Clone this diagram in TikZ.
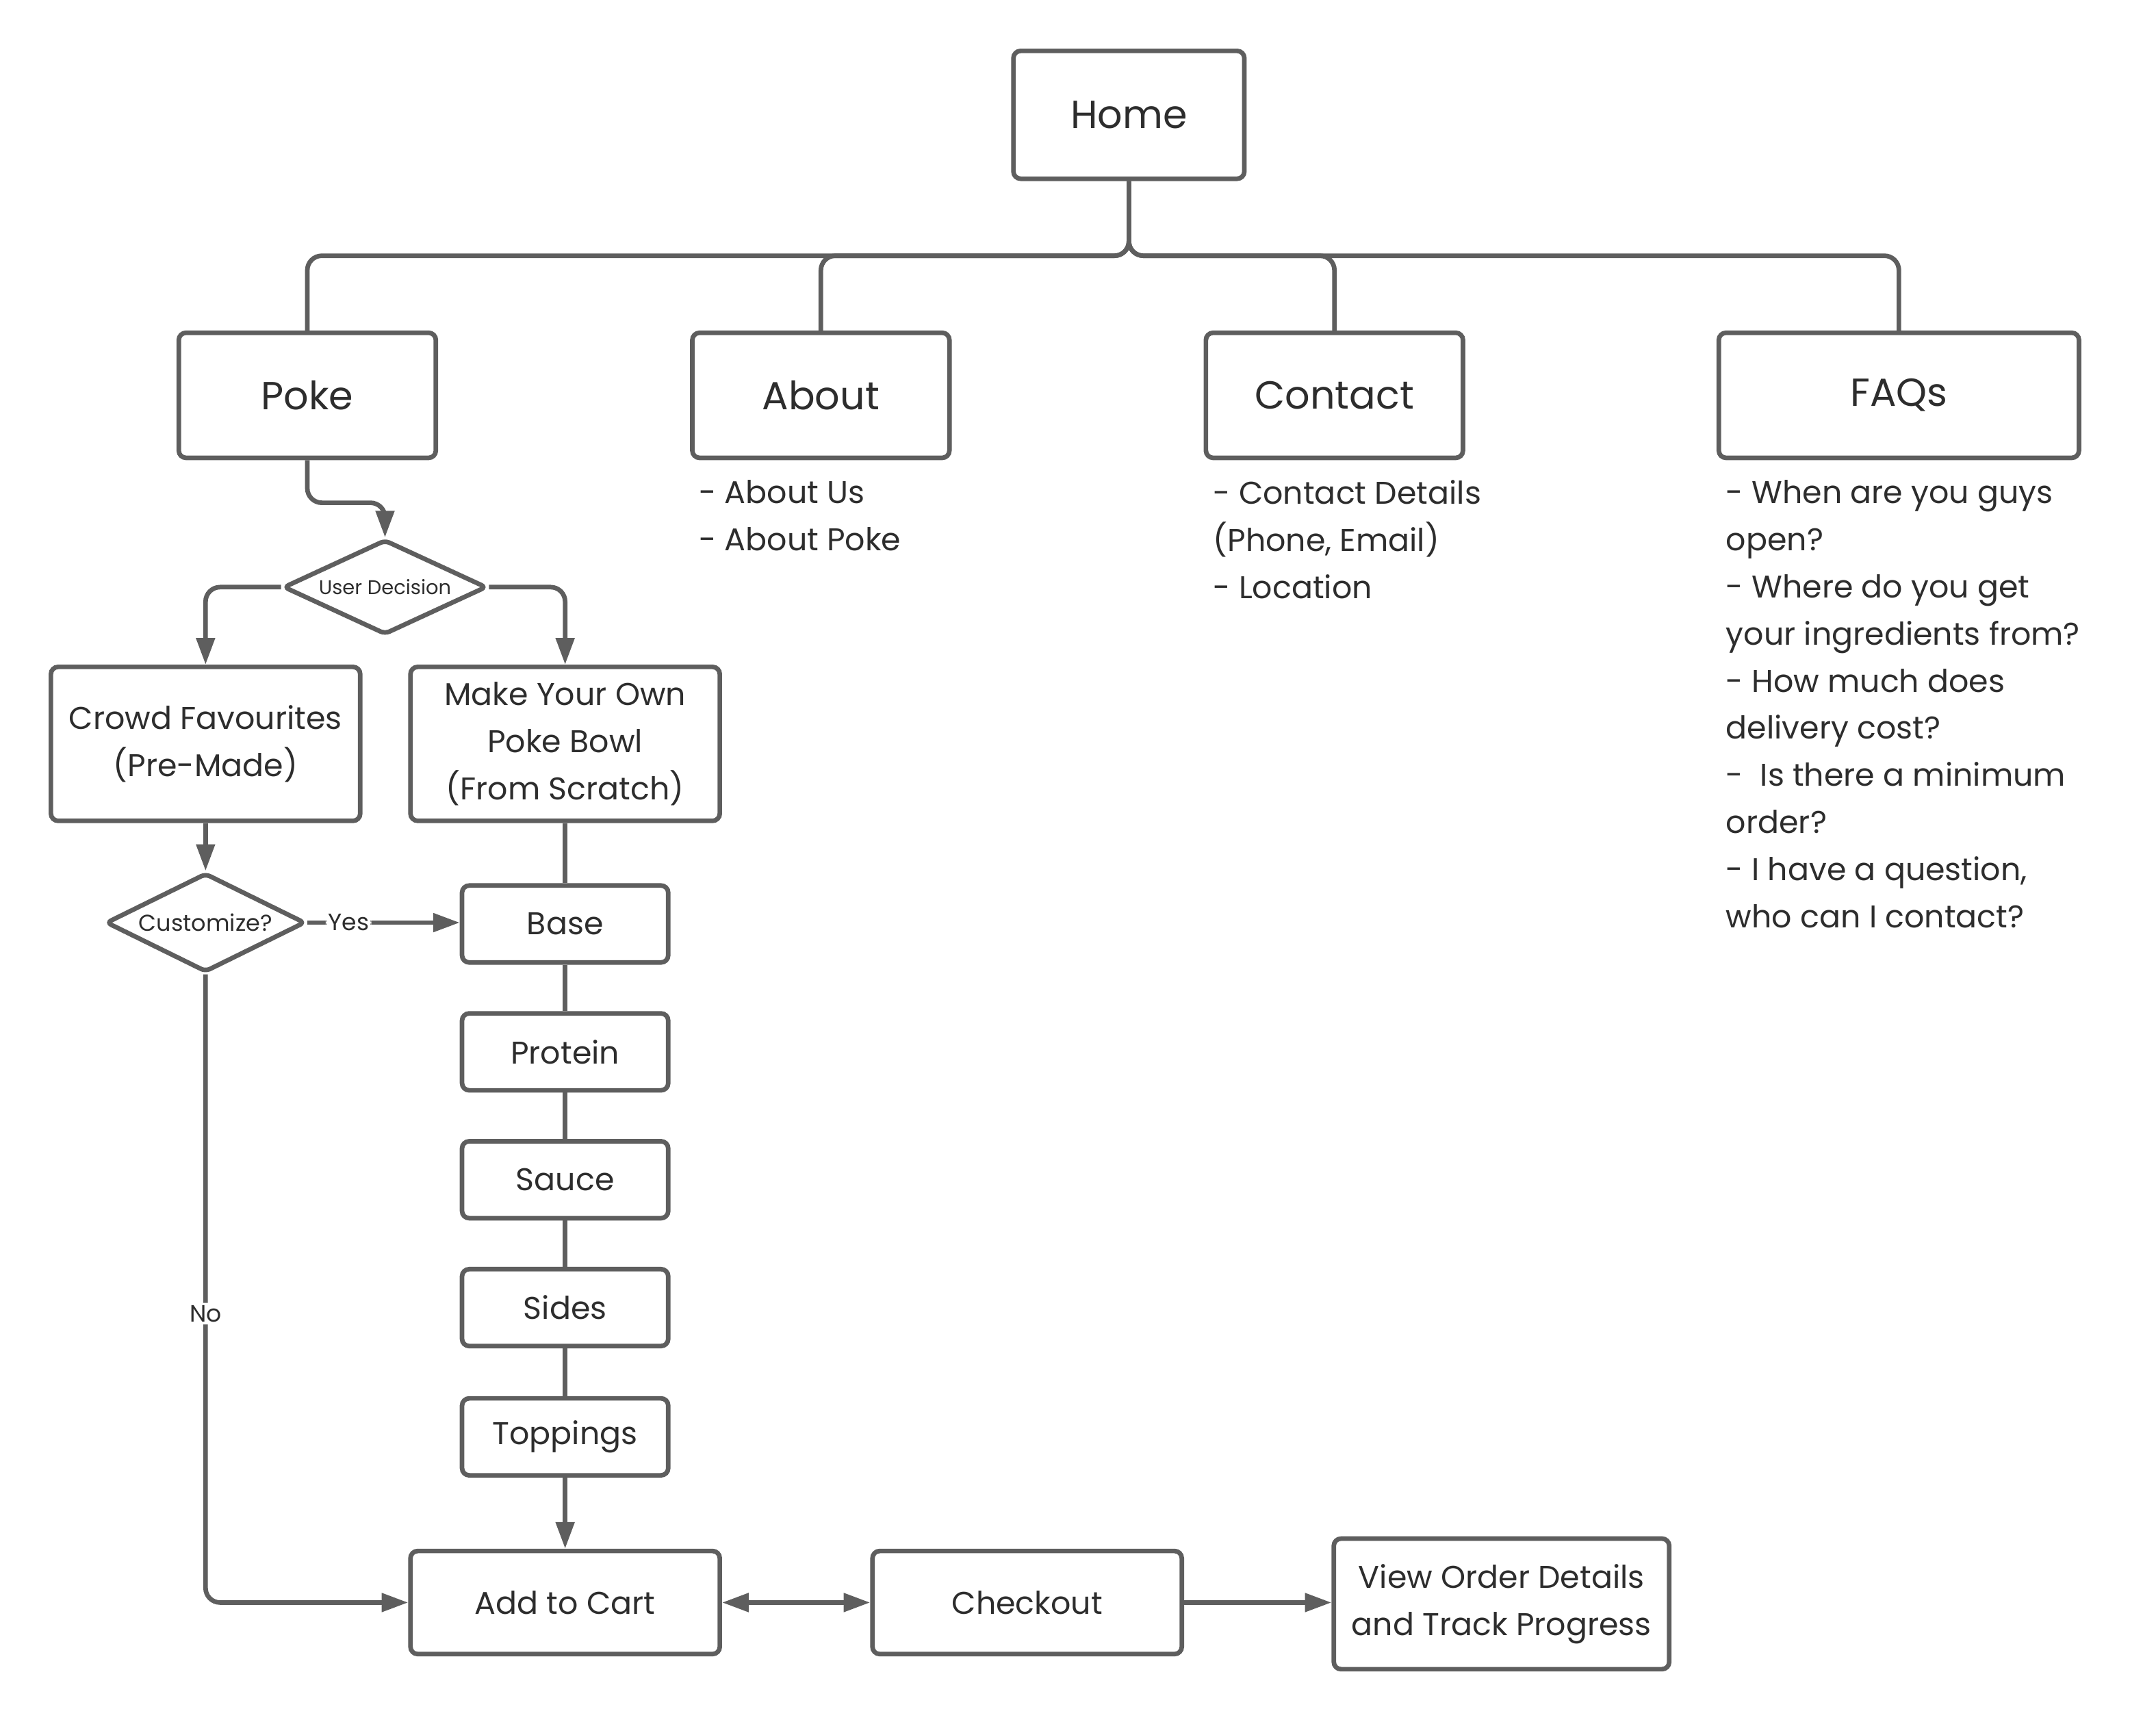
\documentclass[tikz,border=0pt]{standalone}
\usepackage{fontspec}
\setmainfont{Poppins}
\usetikzlibrary{shapes.geometric,arrows.meta}

\definecolor{linegray}{HTML}{5E5E5E}
\definecolor{textgray}{HTML}{2D2D2D}

\tikzset{
  box/.style={draw=linegray, line width=1.9pt, rounded corners=3pt, fill=white,
    text=textgray, align=center, inner sep=0pt, font=\fontsize{13}{19.5}\selectfont},
  bigbox/.style={box, font=\fontsize{16.2}{20}\selectfont, minimum width=3.74cm, minimum height=1.82cm},
  stepbox/.style={box, minimum width=3cm, minimum height=1.12cm},
  flowbox/.style={box, minimum width=4.5cm, minimum height=1.5cm},
  decision/.style={diamond, draw=linegray, line width=1.9pt, rounded corners=2pt, fill=white,
    text=textgray, inner sep=0pt},
  note/.style={anchor=north west, align=left, inner sep=0pt, text=textgray,
    font=\fontsize{13}{19.5}\selectfont},
  link/.style={draw=linegray, line width=1.9pt, rounded corners=6pt},
  arr/.style={link, -{Triangle[length=11pt,width=7.5pt]}},
  lbl/.style={fill=white, text=textgray, inner sep=1pt, font=\fontsize{9.8}{11}\selectfont}
}

\begin{document}
\begin{tikzpicture}[x=0.02cm, y=-0.02cm]
\useasboundingbox (0,0) rectangle (1568,1252);

% site map
\node[bigbox, minimum width=3.36cm, minimum height=1.86cm] (home) at (821,83.5) {Home};
\node[bigbox] (poke) at (223.5,287.5) {Poke};
\node[bigbox] (about) at (597,287.5) {About};
\node[bigbox] (contact) at (970.5,287.5) {Contact};
\node[bigbox, minimum width=5.24cm] (faqs) at (1381,287.5) {FAQs};
\coordinate (bus) at (821,186);

\draw[link] (home.south) -- (bus) -| (poke.north);
\draw[link] (home.south) -- (bus) -| (about.north);
\draw[link] (home.south) -- (bus) -| (contact.north);
\draw[link] (home.south) -- (bus) -| (faqs.north);

\node[note] (aboutlist) at (508,349) {- About Us\\- About Poke};
\node[note] (contactlist) at (882,349) {- Contact Details\\(Phone, Email)\\- Location};
\node[note] (faqlist) at (1255,349) {- When are you guys\\open?\\- Where do you get\\your ingredients from?\\- How much does\\delivery cost?\\-~ Is there a minimum\\order?\\- I have a question,\\who can I contact?};

% ordering flow
\node[decision, aspect=2.2, minimum width=2.96cm, minimum height=1.38cm, font=\fontsize{8.2}{9}\selectfont] (decide) at (280,427) {User Decision};
\node[box, minimum width=4.5cm, minimum height=2.24cm] (crowd) at (149.5,541) {Crowd Favourites\\(Pre-Made)};
\node[box, minimum width=4.5cm, minimum height=2.24cm] (ownbowl) at (411,541) {Make Your Own\\Poke Bowl\\(From Scratch)};
\node[decision, aspect=2, minimum width=2.9cm, minimum height=1.44cm, font=\fontsize{9.5}{10}\selectfont] (custom) at (149.5,671) {Customize?};

\node[stepbox] (base) at (411,672) {Base};
\node[stepbox] (protein) at (411,765) {Protein};
\node[stepbox] (sauce) at (411,858) {Sauce};
\node[stepbox] (sides) at (411,951) {Sides};
\node[stepbox] (toppings) at (411,1045) {Toppings};

\node[flowbox] (cart) at (411,1165.5) {Add to Cart};
\node[flowbox] (checkout) at (747,1165.5) {Checkout};
\node[box, minimum width=4.88cm, minimum height=1.9cm] (vieworder) at (1092,1166.5) {View Order Details\\and Track Progress};

\draw[arr] (poke.south) -- ++(0,31) -| (decide.north);
\draw[arr] (decide.west) -| (crowd.north);
\draw[arr] (decide.east) -| (ownbowl.north);
\draw[arr] (crowd.south) -- (custom.north);
\draw[arr] (custom.east) -- node[lbl, pos=0.27] {Yes} (custom.east -| base.west);
\draw[link] (ownbowl.south) -- (base.north);
\draw[link] (base) -- (protein) -- (sauce) -- (sides) -- (toppings);
\draw[arr] (toppings.south) -- (cart.north);
\draw[arr] (custom.south) |- node[lbl, pos=0.27] {No} (cart.west);
\draw[link, {Triangle[length=11pt,width=7.5pt]}-{Triangle[length=11pt,width=7.5pt]}] (cart.east) -- (checkout.west);
\draw[arr] (checkout.east) -- (checkout.east -| vieworder.west);
\end{tikzpicture}
\end{document}
